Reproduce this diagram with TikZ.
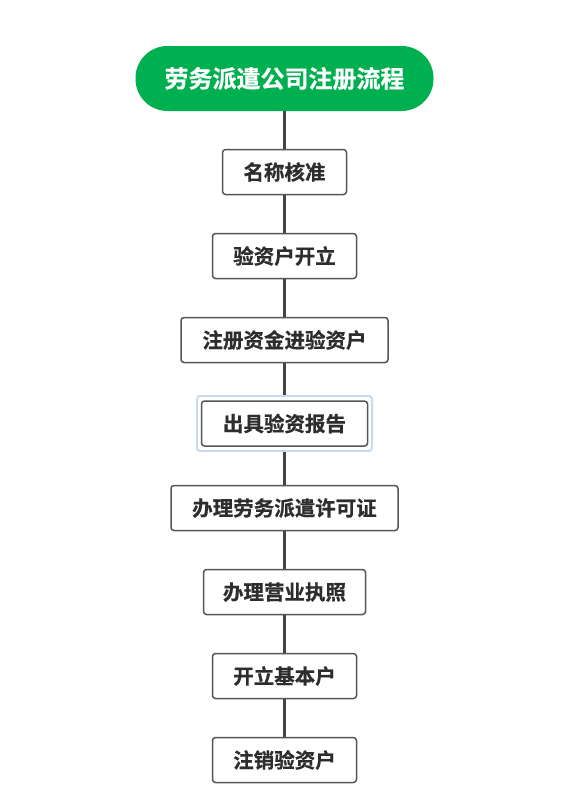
\documentclass[tikz,border=0pt]{standalone}
\usepackage{fontspec}
\newfontfamily\cjk{Noto Sans CJK SC}[BoldFont={Noto Sans CJK SC Bold},BoldFeatures={FakeBold=0.6}]
\definecolor{titlegreen}{RGB}{0,175,80}
\definecolor{boxline}{RGB}{85,85,85}
\definecolor{conn}{RGB}{68,68,68}
\definecolor{txt}{RGB}{45,45,45}
\definecolor{selblue}{RGB}{200,218,238}
\begin{document}
\begin{tikzpicture}[x=1pt,y=-1pt,
  titlebox/.style={rounded corners=32pt,fill=titlegreen,draw=none,minimum width=298pt,minimum height=65pt,text=white,font=\cjk\bfseries\fontsize{24}{24}\selectfont,inner sep=0pt},
  stepbox/.style={rounded corners=3pt,draw=boxline,line width=1.5pt,fill=white,minimum height=45pt,text=txt,font=\cjk\bfseries\fontsize{20.5}{20.5}\selectfont,inner sep=0pt},
  selbox/.style={draw=selblue,line width=2pt,rounded corners=3pt,minimum width=175pt,minimum height=55pt},
  link/.style={draw=conn,line width=3pt}]
\useasboundingbox (0,0) rectangle (588,807);
\fill[white] (0,0) rectangle (588,807);
\node[titlebox] (t) at (284.5,78.5) {劳务派遣公司注册流程};
\node[stepbox,minimum width=124pt] (b1) at (284.5,172) {名称核准};
\node[stepbox,minimum width=144pt] (b2) at (284.5,256) {验资户开立};
\node[stepbox,minimum width=207pt] (b3) at (284.5,340) {注册资金进验资户};
\node[selbox] (sel) at (284.5,423.5) {};
\node[stepbox,minimum width=166pt] (b4) at (284.5,423.5) {出具验资报告};
\node[stepbox,minimum width=227pt] (b5) at (284.5,508) {办理劳务派遣许可证};
\node[stepbox,minimum width=162pt] (b6) at (284.5,592) {办理营业执照};
\node[stepbox,minimum width=144pt] (b7) at (284.5,676) {开立基本户};
\node[stepbox,minimum width=144pt] (b8) at (284.5,760) {注销验资户};
\draw[link] (t.south) -- (b1.north);
\draw[link] (b1.south) -- (b2.north);
\draw[link] (b2.south) -- (b3.north);
\draw[link] (b3.south) -- (sel.north);
\draw[link] (sel.south) -- (b5.north);
\draw[link] (b5.south) -- (b6.north);
\draw[link] (b6.south) -- (b7.north);
\draw[link] (b7.south) -- (b8.north);
\end{tikzpicture}
\end{document}
